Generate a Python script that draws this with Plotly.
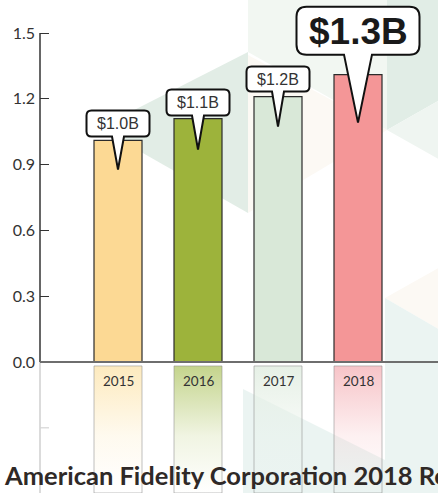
import plotly.graph_objects as go

# ---------------- data ----------------
years = ["2015", "2016", "2017", "2018"]
revenue = [1.01, 1.11, 1.21, 1.31]          # $ billions
value_labels = ["$1.0B", "$1.1B", "$1.2B", "$1.3B"]
y_ticks = [0.0, 0.3, 0.6, 0.9, 1.2, 1.5]
y_ticktext = ["0.0", "0.3", "0.6", "0.9", "1.2", "1.5"]
title_text = "American Fidelity Corporation 2018 Revenue"

# ---------------- styles ----------------
bar_colors = ["#FCD994", "#9DB33B", "#D9E8D8", "#F49697"]
reflect_colors = ["253,234,190", "196,212,140", "230,240,230", "247,196,200"]
# bubble styles: width, height, gap above bar, tip depth, half base, radius, font size, bold
bubble_styles = [
    dict(w=63, h=26, gap=4, tip=29, bh=6, r=5, fs=16, bold=False),
    dict(w=63, h=26, gap=3, tip=31, bh=6, r=5, fs=16, bold=False),
    dict(w=63, h=25, gap=5, tip=30, bh=6, r=5, fs=16, bold=False),
    dict(w=123, h=48, gap=20, tip=48, bh=14, r=10, fs=37, bold=True),
]

W, H = 438, 493
ML = 40
Y0PX = 362          # pixel row of value 0
PX_PER_UNIT = (362 - 33) / 1.5
y_top = Y0PX / PX_PER_UNIT
y_bot = -(H - Y0PX) / PX_PER_UNIT
bar_width = 0.6
xpos = list(range(len(years)))


def px_to_paper(px, py):
    return (px - ML) / (W - ML), 1 - py / H


# faint background decoration polygons (pixel coords) and colours
bg_polys = [
    ([(99, 128), (248, 52), (248, 213)], "rgb(226,237,230)"),
    ([(248, 0), (387, 0), (387, 130), (248, 52)], "rgb(242,247,242)"),
    ([(248, 55), (387, 130), (248, 213)], "rgb(252,249,244)"),
    ([(387, 0), (440, 0), (440, 100), (387, 130)], "rgb(225,237,230)"),
    ([(387, 130), (440, 100), (440, 160)], "rgb(239,245,241)"),
    ([(385, 298), (440, 267), (440, 330)], "rgb(252,249,244)"),
    ([(385, 298), (440, 330), (440, 495), (385, 495)], "rgb(235,244,242)"),
    ([(243, 389), (455, 495), (243, 495)], "rgb(235,244,242)"),
]

fig = go.Figure()

# reflection boxes below the axis
for i, yr in enumerate(years):
    c = reflect_colors[i]
    x0 = xpos[i] - bar_width / 2
    x1 = xpos[i] + bar_width / 2
    ytop = -0.018
    fig.add_trace(go.Scatter(
        x=[x0, x1, x1, x0, x0], y=[ytop, ytop, y_bot, y_bot, ytop],
        mode="lines", fill="toself",
        line=dict(color="rgba(140,140,140,0.55)", width=1),
        fillgradient=dict(type="vertical",
                          colorscale=[[0, f"rgba({c},0)"], [0.45, f"rgba({c},0.25)"],
                                      [1, f"rgba({c},1)"]]),
        hoverinfo="skip", showlegend=False,
    ))

# main bars
fig.add_trace(go.Bar(
    x=xpos, y=revenue, width=bar_width,
    marker=dict(color=bar_colors, line=dict(color="#2b2b2b", width=1.2)),
    showlegend=False, hoverinfo="skip",
))

shapes = []
for pts, col in bg_polys:
    path = ""
    for k, (px, py) in enumerate(pts):
        xp, yp = px_to_paper(px, py)
        path += ("M" if k == 0 else "L") + f"{xp:.4f},{yp:.4f}"
    path += "Z"
    shapes.append(dict(type="path", xref="paper", yref="paper", path=path,
                       fillcolor=col, line=dict(width=0), layer="below"))

# y axis line (solid part) and faint reflection
shapes.append(dict(type="line", xref="paper", yref="y", x0=0, x1=0, y0=0, y1=1.5,
                   line=dict(color="#333", width=1.5)))
shapes.append(dict(type="line", xref="paper", yref="y", x0=0, x1=0, y0=0, y1=y_bot,
                   line=dict(color="#cfcfcf", width=1.5)))
shapes.append(dict(type="line", xref="paper", yref="y", x0=0, x1=9 / (W - ML), y0=-0.3, y1=-0.3,
                   line=dict(color="#d5d5d5", width=1.2)))
# baseline
shapes.append(dict(type="line", xref="paper", yref="y", x0=0, x1=1, y0=0, y1=0,
                   line=dict(color="#6e6e6e", width=2)))


def bubble_path(s):
    w, h, g, t, bh, r = s["w"], s["h"], s["gap"], s["tip"], s["bh"], s["r"]
    L, R, B, T = -w / 2, w / 2, g, g + h
    return (f"M{L + r},{T}L{R - r},{T}Q{R},{T},{R},{T - r}L{R},{B + r}Q{R},{B},{R - r},{B}"
            f"L{bh},{B}L0,{-t}L{-bh},{B}L{L + r},{B}Q{L},{B},{L},{B + r}"
            f"L{L},{T - r}Q{L},{T},{L + r},{T}Z")


annotations = []
for i, yr in enumerate(years):
    s = bubble_styles[i]
    shapes.append(dict(type="path", xref="x", yref="y", xsizemode="pixel", ysizemode="pixel",
                       xanchor=xpos[i], yanchor=revenue[i], path=bubble_path(s),
                       fillcolor="white", line=dict(color="#111", width=2), layer="above"))
    txt = f"<b>{value_labels[i]}</b>" if s["bold"] else value_labels[i]
    annotations.append(dict(x=xpos[i], y=revenue[i], xref="x", yref="y", text=txt, showarrow=False,
                            xanchor="center", yanchor="middle",
                            yshift=s["gap"] + s["h"] / 2 - (1 if s["bold"] else 0),
                            font=dict(family="Liberation Sans, Arial, sans-serif",
                                      size=s["fs"], color="#1a1a1a" if s["bold"] else "#333")))
    annotations.append(dict(x=xpos[i], y=0, xref="x", yref="y", text=yr, showarrow=False,
                            xanchor="center", yanchor="middle", yshift=-19,
                            font=dict(family="Lato, sans-serif", size=13.5, color="#333")))

annotations.append(dict(x=(2 - ML) / (W - ML), y=1 - 475 / H, xref="paper", yref="paper",
                        text=f"<b>{title_text}</b>",
                        showarrow=False, xanchor="left", yanchor="middle",
                        font=dict(family="Lato, sans-serif", size=25.5, color="#2f2927")))

fig.update_layout(
    width=W, height=H,
    margin=dict(l=ML, r=0, t=0, b=0),
    paper_bgcolor="white", plot_bgcolor="rgba(0,0,0,0)",
    xaxis=dict(range=[-0.975, 4.0], showticklabels=False, ticks="",
               showgrid=False, zeroline=False, showline=False, fixedrange=True),
    yaxis=dict(range=[y_bot, y_top], tickvals=y_ticks, ticktext=y_ticktext, ticks="inside",
               ticklen=9, tickwidth=1.2, tickcolor="#333", showgrid=False, zeroline=False,
               showline=False, ticklabelstandoff=4,
               tickfont=dict(family="Lato, sans-serif", size=16, color="#333"), fixedrange=True),
    shapes=shapes,
    annotations=annotations,
    showlegend=False,
)

fig.write_html("out.html", config={"displayModeBar": False},
               post_script="document.body.style.margin='0';")
